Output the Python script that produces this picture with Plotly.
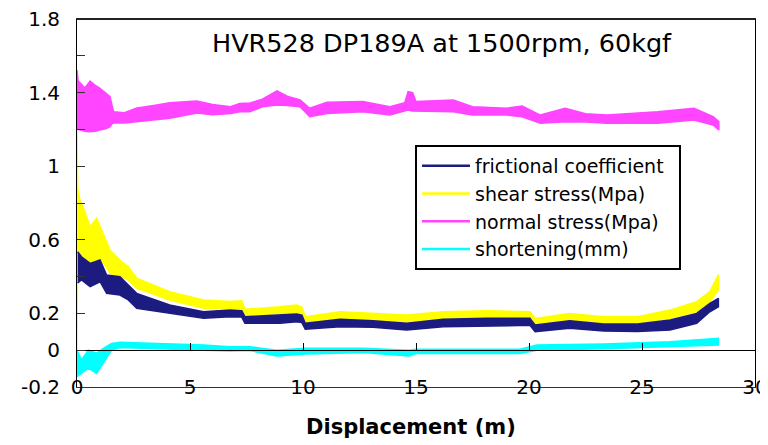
import plotly.graph_objects as go

# ---- data (each series drawn as a noisy band: low / high envelope) ----
normal_x  = [0.00, 0.05, 0.35, 0.58, 0.80, 1.00, 1.30, 1.46, 1.55, 1.62, 2.10, 2.65, 3.40, 4.10, 5.30, 6.00, 6.80,
             7.20, 7.65, 8.20, 8.85, 9.30, 9.87, 10.30, 11.06, 12.65, 13.85, 14.50, 14.65, 14.85, 15.00, 16.65,
             17.50, 19.00, 19.70, 20.50, 21.60, 22.50, 23.45, 25.70, 27.30, 28.15, 28.40]
normal_lo = [1.208, 1.200, 1.190, 1.187, 1.190, 1.197, 1.205, 1.215, 1.230, 1.235, 1.235, 1.242, 1.250, 1.260, 1.289,
             1.280, 1.287, 1.296, 1.296, 1.323, 1.333, 1.330, 1.323, 1.269, 1.287, 1.296, 1.278, 1.300, 1.305, 1.300,
             1.296, 1.296, 1.278, 1.278, 1.269, 1.233, 1.242, 1.240, 1.233, 1.233, 1.251, 1.224, 1.197]
normal_hi = [1.523, 1.465, 1.425, 1.463, 1.440, 1.425, 1.395, 1.378, 1.330, 1.296, 1.291, 1.316, 1.330, 1.345, 1.354,
             1.335, 1.323, 1.341, 1.343, 1.364, 1.410, 1.380, 1.360, 1.315, 1.347, 1.351, 1.323, 1.345, 1.405, 1.400,
             1.351, 1.360, 1.323, 1.315, 1.327, 1.278, 1.315, 1.285, 1.278, 1.296, 1.315, 1.269, 1.242]

shear_x  = [0.00, 0.03, 0.13, 0.35, 0.58, 0.87, 1.09, 1.46, 1.90, 2.27, 2.64, 4.10, 5.60, 6.77, 7.29, 7.43, 8.98,
            9.72, 9.95, 10.10, 11.64, 13.10, 14.59, 16.20, 18.13, 20.04, 20.27, 21.80, 23.30, 24.80, 26.24, 27.42,
            28.00, 28.38]
shear_lo = [0.000, 0.560, 0.535, 0.474, 0.474, 0.481, 0.490, 0.418, 0.400, 0.382, 0.338, 0.273, 0.228, 0.228, 0.225,
            0.191, 0.200, 0.200, 0.195, 0.150, 0.173, 0.164, 0.150, 0.173, 0.179, 0.175, 0.142, 0.164, 0.146, 0.146,
            0.173, 0.209, 0.264, 0.327]
shear_hi = [1.235, 0.882, 0.816, 0.753, 0.671, 0.717, 0.653, 0.545, 0.490, 0.454, 0.391, 0.318, 0.273, 0.264, 0.269,
            0.222, 0.236, 0.246, 0.235, 0.182, 0.209, 0.200, 0.191, 0.209, 0.215, 0.209, 0.173, 0.200, 0.182, 0.182,
            0.218, 0.264, 0.318, 0.409]

fric_x  = [0.03, 0.20, 0.58, 1.02, 1.31, 1.90, 2.27, 2.64, 4.10, 5.60, 6.77, 7.29, 7.43, 8.98, 9.72, 9.95, 10.10,
           11.64, 13.10, 14.59, 16.20, 18.13, 20.04, 20.27, 21.80, 23.30, 24.80, 26.24, 27.42, 28.00, 28.38]
fric_lo = [0.365, 0.382, 0.345, 0.372, 0.309, 0.300, 0.273, 0.228, 0.200, 0.173, 0.182, 0.180, 0.146, 0.146, 0.155,
           0.150, 0.114, 0.128, 0.125, 0.110, 0.128, 0.133, 0.135, 0.101, 0.119, 0.104, 0.101, 0.110, 0.146, 0.209,
           0.236]
fric_hi = [0.535, 0.508, 0.472, 0.490, 0.409, 0.400, 0.354, 0.309, 0.246, 0.209, 0.218, 0.215, 0.182, 0.191, 0.197,
           0.190, 0.146, 0.168, 0.160, 0.146, 0.168, 0.173, 0.173, 0.137, 0.160, 0.142, 0.142, 0.164, 0.200, 0.255,
           0.282]

short_x  = [0.00, 0.20, 0.50, 0.87, 1.17, 1.53, 1.90, 3.37, 5.60, 6.77, 7.65, 8.83, 10.10, 12.67, 14.70, 15.00,
            17.10, 19.60, 20.35, 23.30, 26.24, 28.38]
short_lo = [-0.144, -0.126, -0.098, -0.126, -0.071, 0.000, 0.014, 0.010, 0.000, -0.004, -0.002, -0.032, -0.021,
            -0.013, -0.032, -0.017, -0.018, -0.018, 0.000, 0.008, 0.019, 0.028]
short_hi = [0.000, -0.053, 0.000, -0.016, 0.010, 0.037, 0.043, 0.037, 0.028, 0.019, 0.019, 0.000, 0.010, 0.010,
            0.000, 0.005, 0.005, 0.005, 0.028, 0.034, 0.046, 0.065]

series_names = ["frictional coefficient\u00a0\u2009", "shear stress(Mpa)", "normal stress(Mpa)", "shortening(mm)"]
y_tickvals = [-0.2, 0, 0.2, 0.4, 0.6, 0.8, 1.0, 1.2, 1.4, 1.6, 1.8]
y_ticktext = ["-0.2", "0", "0.2", "", "0.6", "", "1", "", "1.4", "", "1.8"]
x_tickvals = [0, 5, 10, 15, 20, 25, 30]
x_ticktext = ["0", "5", "10", "15", "20", "25", "30"]
title_text = "HVR528 DP189A at 1500rpm, 60kgf"
x_title = "Displacement (m)"

# ---- styles ----
C_FRIC = "#1c1c80"
C_SHEAR = "#ffff00"
C_NORM = "#ff45ff"
C_SHORT = "#00ffff"
FONT = "DejaVu Sans"

fig = go.Figure()


def band(xs, lo, hi, color):
    fig.add_trace(go.Scatter(
        x=list(xs) + list(xs)[::-1],
        y=list(hi) + list(lo)[::-1],
        fill="toself", fillcolor=color, mode="lines",
        line=dict(color=color, width=1.5), showlegend=False, hoverinfo="skip"))


band(shear_x, shear_lo, shear_hi, C_SHEAR)
band(fric_x, fric_lo, fric_hi, C_FRIC)
band(normal_x, normal_lo, normal_hi, C_NORM)
band(short_x, short_lo, short_hi, C_SHORT)

# legend entries (line samples)
for i, (name, col) in enumerate(zip(series_names, [C_FRIC, C_SHEAR, C_NORM, C_SHORT])):
    fig.add_trace(go.Scatter(x=[None], y=[None], mode="lines", name=name, legendgroup=f"g{i}",
                             line=dict(color=col, width=2.5)))

# helper trace for the zero-line axis
fig.add_trace(go.Scatter(x=[None], y=[None], xaxis="x2", showlegend=False, hoverinfo="skip"))

# page body has an 8px margin: figure is 760x437 so the plot area lands at x 77..755, y 19..387
fig.update_layout(
    width=760, height=437,
    margin=dict(l=69, r=13, t=11, b=58, autoexpand=False),
    paper_bgcolor="white", plot_bgcolor="white",
    font=dict(family=FONT, color="black"),
    showlegend=True,
    legend=dict(x=0.4985, y=0.6576, xanchor="left", yanchor="top",
                bordercolor="black", borderwidth=2, bgcolor="white",
                itemwidth=48, tracegroupgap=7, traceorder="normal",
                font=dict(family=FONT, size=19, color="black")),
    xaxis=dict(range=[0, 30], tickvals=x_tickvals, ticktext=x_ticktext,
               showline=True, linecolor="#333", linewidth=1, mirror="all",
               ticks="", showgrid=False, zeroline=False, automargin=False,
               tickfont=dict(family=FONT, size=20, color="black"),
               ticklabeloverflow="allow", ticklabelstandoff=-18),
    xaxis2=dict(overlaying="x", matches="x", range=[0, 30], anchor="free", position=0.1,
                showline=True, linecolor="black", linewidth=1,
                tickvals=[5, 10, 15, 20, 25], ticks="inside", ticklen=7, tickcolor="black",
                showticklabels=False, showgrid=False, zeroline=False, automargin=False),
    yaxis=dict(range=[-0.2, 1.8], tickvals=y_tickvals, ticktext=y_ticktext,
               showline=True, linecolor="black", linewidth=1, mirror=True,
               ticks="inside", ticklen=8, tickcolor="#333",
               showgrid=False, zeroline=False, automargin=False,
               tickfont=dict(family=FONT, size=20, color="black"),
               ticklabeloverflow="allow", ticklabelstandoff=12),
    shapes=[dict(type="line", xref="paper", yref="paper", x0=0, x1=1, y0=1, y1=1,
                 layer="above", line=dict(color="#222", width=2))],
    annotations=[
        dict(text=title_text, xref="paper", yref="paper", x=0.538, y=0.935,
             xanchor="center", yanchor="middle", showarrow=False,
             font=dict(family=FONT, size=25.5, color="black")),
        dict(text="<b>" + x_title + "</b>", xref="paper", yref="paper", x=0.4926, y=-0.1087,
             xanchor="center", yanchor="middle", showarrow=False,
             font=dict(family=FONT, size=21, color="black")),
    ],
)

fig.write_html("out.html")
